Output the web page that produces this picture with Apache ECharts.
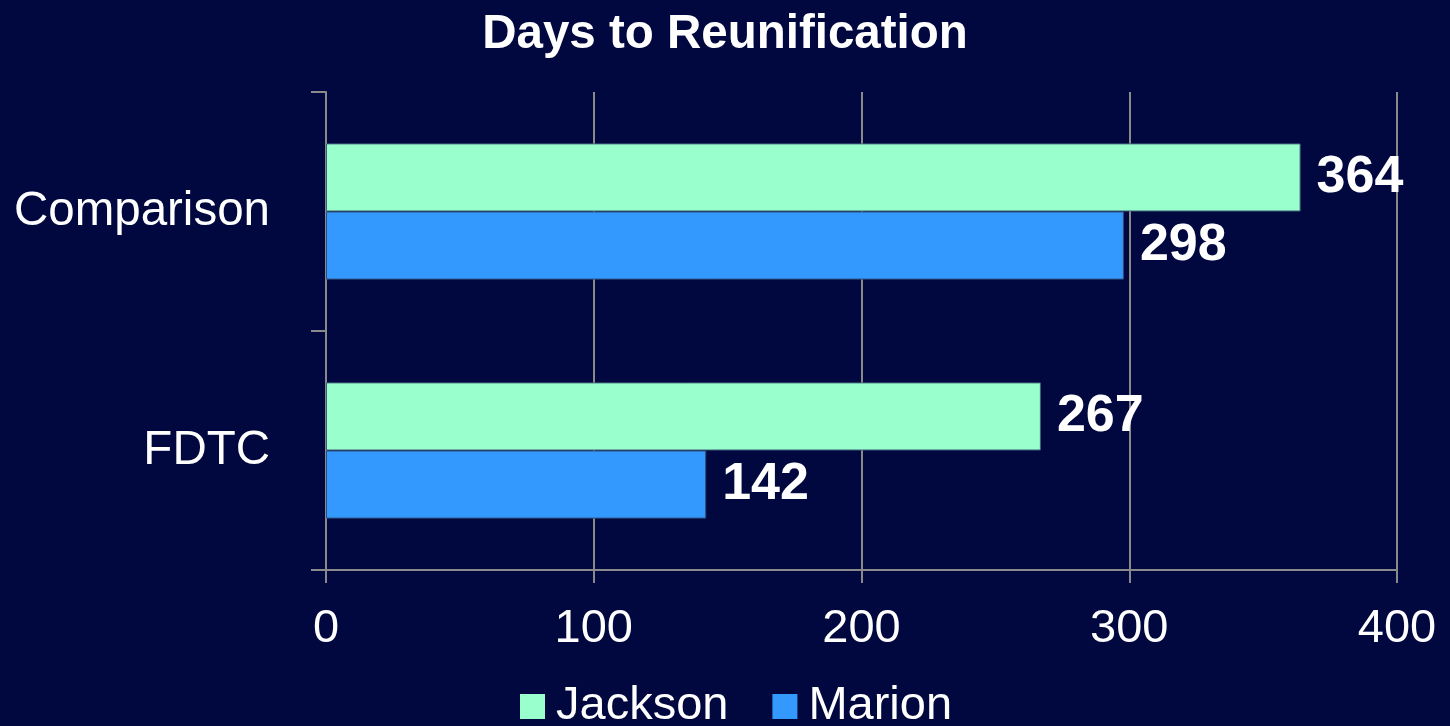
<!DOCTYPE html>
<html>
<head>
<meta charset="utf-8">
<style>
html,body{margin:0;padding:0;background:#00083F;}
#c{width:1450px;height:726px;}
</style>
<script src="https://cdn.jsdelivr.net/npm/echarts@6/dist/echarts.min.js"></script>
</head>
<body>
<div id="c"></div>
<script>
const categories = ['Comparison', 'FDTC'];
const seriesNames = ['Jackson', 'Marion'];
const jackson = [364, 267];
const marion = [298, 142];
const xTicks = [0, 100, 200, 300, 400];

const FONT = '"Liberation Sans", Arial, sans-serif';
const chart = echarts.init(document.getElementById('c'));
chart.setOption({
  backgroundColor: '#00083F',
  animation: false,
  title: {
    text: 'Days to Reunification',
    left: 'center',
    top: 6,
    textStyle: { color: '#fff', fontSize: 47.5, fontWeight: 'bold', fontFamily: FONT }
  },
  legend: {
    data: seriesNames,
    left: 515,
    top: 678,
    icon: 'rect',
    itemWidth: 25,
    itemHeight: 25,
    itemGap: 44,
    itemStyle: { borderWidth: 0 },
    textStyle: { color: '#fff', fontSize: 47, fontFamily: FONT, padding: [0, 0, 0, 6] }
  },
  grid: { left: 326, right: 53, top: 92, bottom: 156 },
  xAxis: {
    type: 'value',
    min: xTicks[0],
    max: xTicks[xTicks.length - 1],
    interval: 100,
    axisLine: { show: true, lineStyle: { color: '#8a8a8a', width: 2 } },
    axisTick: { show: true, length: 13, lineStyle: { color: '#8a8a8a', width: 2 } },
    splitLine: { show: true, lineStyle: { color: '#8a8a8a', width: 2 } },
    axisLabel: { color: '#fff', fontSize: 47, fontFamily: FONT, margin: 36 }
  },
  yAxis: {
    type: 'category',
    data: categories,
    inverse: true,
    axisLine: { show: true, lineStyle: { color: '#8a8a8a', width: 2 } },
    axisTick: { show: true, length: 15, lineStyle: { color: '#8a8a8a', width: 2 } },
    axisLabel: { color: '#fff', fontSize: 47.5, fontFamily: FONT, margin: 56 }
  },
  series: [
    {
      name: seriesNames[0], type: 'bar', data: jackson,
      barGap: '0%', barCategoryGap: '43%',
      itemStyle: { color: '#99FFCC', borderColor: '#3d5f7a', borderWidth: 1 },
      label: { show: true, position: 'right', distance: 16, color: '#fff', fontSize: 52, fontWeight: 'bold', fontFamily: FONT }
    },
    {
      name: seriesNames[1], type: 'bar', data: marion,
      barGap: '0%', barCategoryGap: '43%',
      itemStyle: { color: '#3399FF', borderColor: '#2d4f7a', borderWidth: 1 },
      label: { show: true, position: 'right', distance: 16, color: '#fff', fontSize: 52, fontWeight: 'bold', fontFamily: FONT }
    }
  ]
});
</script>
</body>
</html>
